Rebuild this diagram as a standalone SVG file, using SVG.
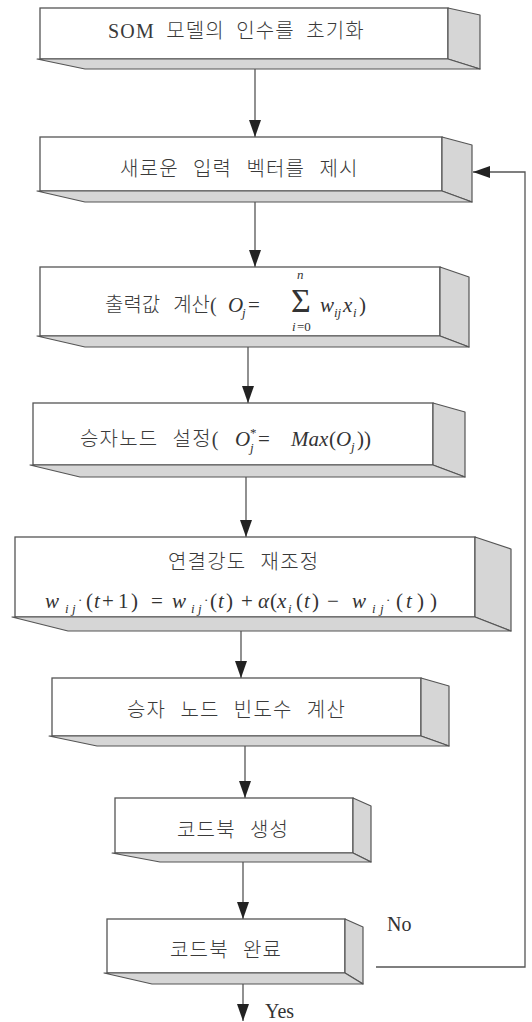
<svg xmlns="http://www.w3.org/2000/svg" width="532" height="1022" viewBox="0 0 532 1022">
<defs>
<style>
.front{fill:#fff;stroke:#555;stroke-width:1.3}
.side{fill:#d6d6d6;stroke:#555;stroke-width:1.2;stroke-linejoin:round}
.kr{font-family:"Liberation Serif","Noto Sans CJK KR",serif;font-size:20px;fill:#3a3a3a;font-weight:300;word-spacing:8px;letter-spacing:1.2px}
.m{font-family:"Liberation Serif",serif;font-size:21px;fill:#333}
.s{font-size:13px}
.it{font-style:italic}
.lbl{font-family:"Liberation Serif",serif;font-size:20px;fill:#333}
.conn{stroke:#555;stroke-width:1.3;fill:none}
</style>
<marker id="ah" viewBox="0 0 17 12" refX="17" refY="6" markerWidth="17" markerHeight="12" markerUnits="userSpaceOnUse" orient="auto">
<path d="M0,0 L17,6 L0,12 z" fill="#222"/>
</marker>
</defs>
<rect width="532" height="1022" fill="#fff"/>

<g id="connectors">
<path class="conn" d="M255,69 V137" marker-end="url(#ah)"/>
<path class="conn" d="M255,202 V267" marker-end="url(#ah)"/>
<path class="conn" d="M248,347 V403" marker-end="url(#ah)"/>
<path class="conn" d="M246,477 V537" marker-end="url(#ah)"/>
<path class="conn" d="M241,631 V678" marker-end="url(#ah)"/>
<path class="conn" d="M245,746 V798" marker-end="url(#ah)"/>
<path class="conn" d="M243,862 V919" marker-end="url(#ah)"/>
<path class="conn" d="M243,984 V1021" marker-end="url(#ah)"/>
<path class="conn" d="M376,967 H525 V172 H473" marker-end="url(#ah)"/>
<text class="lbl" x="387" y="931">No</text>
<text class="lbl" x="265" y="1018" font-size="21">Yes</text>
</g>

<g id="n1">
<rect class="front" x="40" y="8" width="408" height="51"/>
<polygon class="side" points="448,8 480,15 480,69 448,59"/>
<polygon class="side" points="37,59 448,59 480,69 85,69"/>
<text class="kr" x="108" y="38" style="word-spacing:5px">SOM 모델의 인수를 초기화</text>
</g>

<g id="n2">
<rect class="front" x="40" y="137" width="402" height="54"/>
<polygon class="side" points="442,137 472,145 472,202 442,191"/>
<polygon class="side" points="37,191 442,191 472,202 85,202"/>
<text class="kr" x="120" y="176">새로운 입력 벡터를 제시</text>
</g>

<g id="n3">
<rect class="front" x="40" y="267" width="400" height="69"/>
<polygon class="side" points="440,267 469,277 469,347 440,336"/>
<polygon class="side" points="37,336 440,336 469,347 85,347"/>
<text class="kr" x="105" y="312" style="letter-spacing:0">출력값 계산(</text>
<text class="m"><tspan class="it" x="228" y="312">O</tspan><tspan class="it s" x="242" y="317">j</tspan><tspan x="248" y="312">=</tspan><tspan x="291" y="312" font-size="34">Σ</tspan><tspan class="it s" x="297" y="279">n</tspan><tspan class="it s" x="292" y="331">i</tspan><tspan class="s" x="297" y="331">=0</tspan><tspan class="it" x="320" y="312">w</tspan><tspan class="it s" x="334" y="317">ij</tspan><tspan class="it" x="343" y="312">x</tspan><tspan class="it s" x="353" y="317">i</tspan><tspan x="359" y="312">)</tspan></text>
</g>

<g id="n4">
<rect class="front" x="33" y="403" width="400" height="62"/>
<polygon class="side" points="433,403 465,412 465,477 433,465"/>
<polygon class="side" points="30,465 433,465 465,477 80,477"/>
<text class="kr" x="80" y="446">승자노드 설정(</text>
<text class="m"><tspan class="it" x="235" y="446">O</tspan><tspan class="s" x="250" y="437">*</tspan><tspan class="it s" x="250" y="452">j</tspan><tspan x="258" y="446">=</tspan><tspan class="it" x="291" y="446">Max</tspan><tspan x="329" y="446">(</tspan><tspan class="it" x="336" y="446">O</tspan><tspan class="it s" x="351" y="451">j</tspan><tspan x="357" y="446">))</tspan></text>
</g>

<g id="n5">
<rect class="front" x="15" y="537" width="460" height="80"/>
<polygon class="side" points="475,537 511,549 511,631 475,617"/>
<polygon class="side" points="12,617 475,617 511,631 68,631"/>
<text class="kr" x="168" y="569">연결강도 재조정</text>
<text class="m" font-size="22"><tspan class="it" x="45" y="608">w</tspan><tspan class="it s" x="65" y="613">i</tspan><tspan class="it s" x="72" y="613">j</tspan><tspan class="s" x="78" y="604">·</tspan><tspan x="86" y="608">(</tspan><tspan class="it" x="94" y="608">t</tspan><tspan x="102" y="608">+</tspan><tspan x="118" y="608">1</tspan><tspan x="131" y="608">)</tspan><tspan x="151" y="608">=</tspan><tspan class="it" x="172" y="608">w</tspan><tspan class="it s" x="191" y="613">i</tspan><tspan class="it s" x="198" y="613">j</tspan><tspan class="s" x="204" y="604">·</tspan><tspan x="210" y="608">(</tspan><tspan class="it" x="218" y="608">t</tspan><tspan x="226" y="608">)</tspan><tspan x="241" y="608">+</tspan><tspan class="it" x="258" y="608">α</tspan><tspan x="270" y="608">(</tspan><tspan class="it" x="277" y="608">x</tspan><tspan class="it s" x="288" y="613">i</tspan><tspan x="296" y="608">(</tspan><tspan class="it" x="304" y="608">t</tspan><tspan x="312" y="608">)</tspan><tspan x="327" y="608">−</tspan><tspan class="it" x="352" y="608">w</tspan><tspan class="it s" x="372" y="613">i</tspan><tspan class="it s" x="380" y="613">j</tspan><tspan class="s" x="386" y="604">·</tspan><tspan x="396" y="608">(</tspan><tspan class="it" x="406" y="608">t</tspan><tspan x="417" y="608">)</tspan><tspan x="430" y="608">)</tspan></text>
</g>

<g id="n6">
<rect class="front" x="52" y="678" width="369" height="58"/>
<polygon class="side" points="421,678 449,686 449,746 421,736"/>
<polygon class="side" points="49,736 421,736 449,746 97,746"/>
<text class="kr" x="127" y="717">승자 노드 빈도수 계산</text>
</g>

<g id="n7">
<rect class="front" x="115" y="798" width="238" height="55"/>
<polygon class="side" points="353,798 371,806 371,862 353,853"/>
<polygon class="side" points="112,853 353,853 371,862 160,862"/>
<text class="kr" x="177" y="837">코드북 생성</text>
</g>

<g id="n8">
<rect class="front" x="107" y="919" width="238" height="54"/>
<polygon class="side" points="345,919 363,927 363,984 345,973"/>
<polygon class="side" points="104,973 345,973 363,984 152,984"/>
<text class="kr" x="170" y="957">코드북 완료</text>
</g>
</svg>
